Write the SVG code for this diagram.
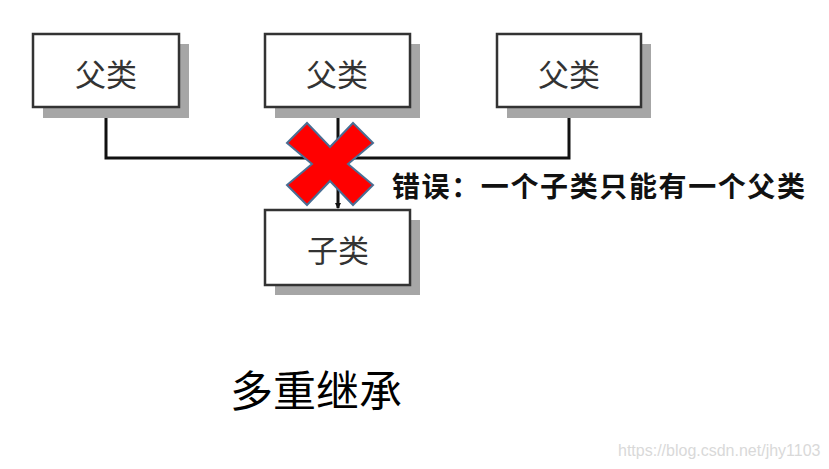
<svg xmlns="http://www.w3.org/2000/svg" width="829" height="469" viewBox="0 0 829 469">
<style>
.shadow{fill:#a6a6a6}
.box{fill:#fff;stroke:#333;stroke-width:2.5}
.lbl{font-family:"Noto Sans CJK SC","Noto Sans",sans-serif;font-size:31px;fill:#333;text-anchor:middle}
.conn{fill:none;stroke:#111;stroke-width:3}
</style>
<defs>
<marker id="arr" markerWidth="6" markerHeight="6" refX="5" refY="3" orient="auto" markerUnits="userSpaceOnUse">
<path d="M0,0 L6,3 L0,6 z" fill="#111"/>
</marker>
</defs>
<rect width="829" height="469" fill="#fff"/>
<g id="connectors">
<polyline class="conn" points="106,107 106,158 569,158 569,107"/>
<line class="conn" x1="338" y1="107" x2="338" y2="208" marker-end="url(#arr)"/>
</g>
<g id="parent1">
<rect class="shadow" x="43" y="44" width="146" height="74"/>
<rect class="box" x="33" y="34" width="146" height="73"/>
<text class="lbl" x="106" y="86">父类</text>
</g>
<g id="parent2">
<rect class="shadow" x="275" y="44" width="145" height="74"/>
<rect class="box" x="265" y="34" width="145" height="73"/>
<text class="lbl" x="337" y="86">父类</text>
</g>
<g id="parent3">
<rect class="shadow" x="507" y="44" width="144" height="74"/>
<rect class="box" x="497" y="34" width="144" height="73"/>
<text class="lbl" x="569" y="86">父类</text>
</g>
<g id="child">
<rect class="shadow" x="275" y="220" width="145" height="75"/>
<rect class="box" x="265" y="210" width="145" height="75"/>
<text class="lbl" x="338" y="262">子类</text>
</g>
<g id="cross">
<polygon points="287,143 307,123 330,147 353,123 373,143 348,164 373,185 353,205 330,181 307,205 287,185 312,164" fill="#ff0000" stroke="#4a6e94" stroke-width="2"/>
</g>
<g id="error-note">
<text x="392" y="197" font-family="Noto Sans CJK SC,sans-serif" font-size="28" font-weight="bold" fill="#111" textLength="413" lengthAdjust="spacing">错误：一个子类只能有一个父类</text>
</g>
<text x="230" y="407" font-family="Noto Sans CJK SC,sans-serif" font-size="43" fill="#000">多重继承</text>
<text x="618" y="456" font-family="Liberation Sans,Arial,sans-serif" font-size="16" fill="#d9d9d9">https://blog.csdn.net/jhy1103</text>
</svg>
